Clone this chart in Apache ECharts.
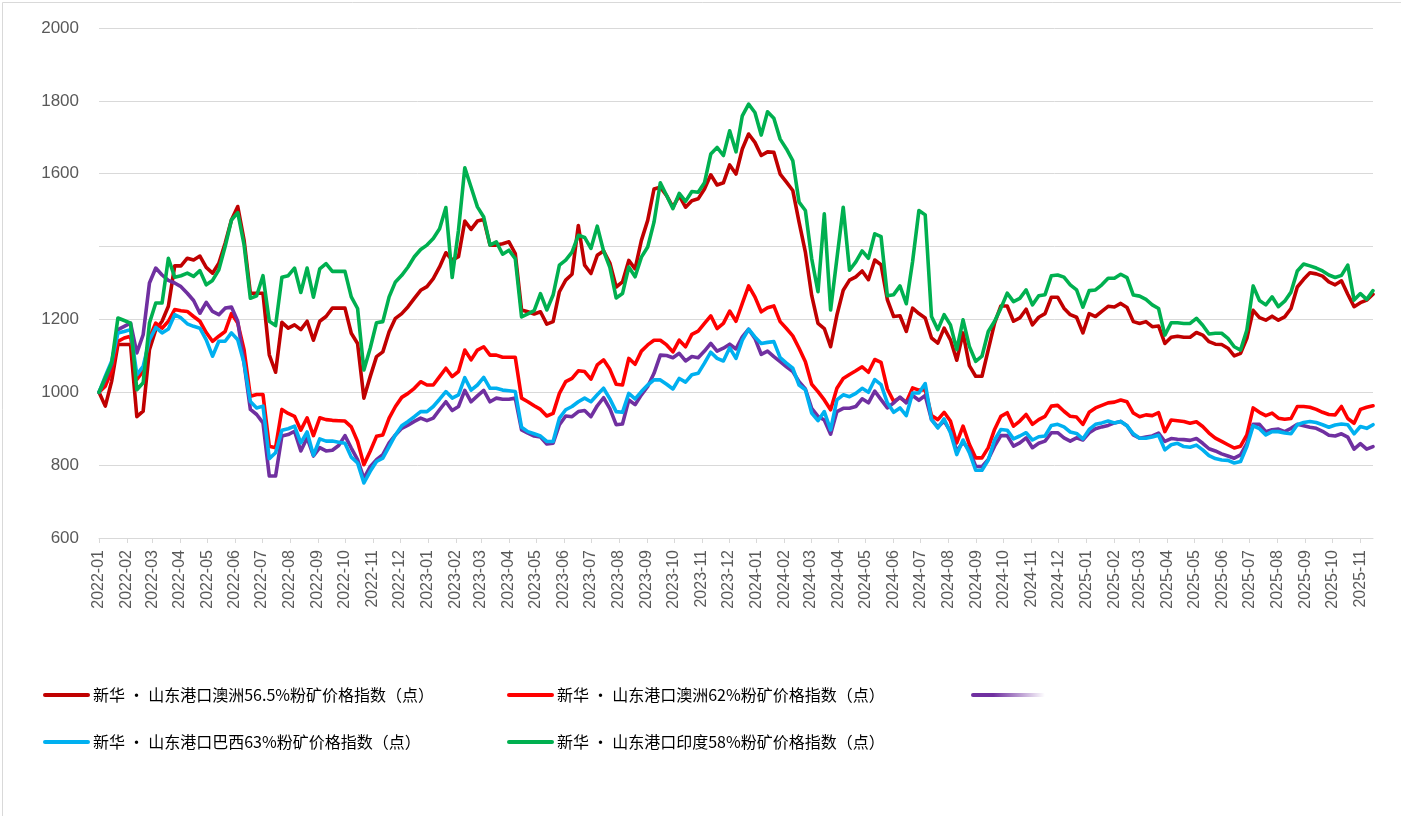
<!DOCTYPE html>
<html>
<head>
<meta charset="utf-8">
<script src="https://cdn.jsdelivr.net/npm/echarts@6/dist/echarts.min.js"></script>
<style>
html,body{margin:0;padding:0;background:#fff;}
#chart{width:1401px;height:816px;}
</style>
</head>
<body>
<div id="chart"></div>
<script>
// Weekly observations starting from this date
const startDate = '2022-01-01';

// X-axis tick labels (month starts)
const monthLabels = [
  '2022-01','2022-02','2022-03','2022-04','2022-05','2022-06','2022-07','2022-08','2022-09','2022-10','2022-11','2022-12',
  '2023-01','2023-02','2023-03','2023-04','2023-05','2023-06','2023-07','2023-08','2023-09','2023-10','2023-11','2023-12',
  '2024-01','2024-02','2024-03','2024-04','2024-05','2024-06','2024-07','2024-08','2024-09','2024-10','2024-11','2024-12',
  '2025-01','2025-02','2025-03','2025-04','2025-05','2025-06','2025-07','2025-08','2025-09','2025-10','2025-11'
];

// Series names
const nameAu565 = '新华 · 山东港口澳洲56.5%粉矿价格指数（点）';
const nameAu62 = '新华 · 山东港口澳洲62%粉矿价格指数（点）';
const namePurple = ' ';
const nameBr63 = '新华 · 山东港口巴西63%粉矿价格指数（点）';
const nameIn58 = '新华 · 山东港口印度58%粉矿价格指数（点）';

// 澳洲56.5%
const au565 = [
  1000, 962, 1030, 1131, 1131, 1131, 933, 948, 1117, 1172,
  1195, 1236, 1347, 1347, 1368, 1363, 1374, 1343, 1327, 1354,
  1409, 1473, 1510, 1418, 1272, 1272, 1272, 1103, 1055, 1192,
  1176, 1185, 1172, 1195, 1143, 1195, 1208, 1231, 1231, 1231,
  1162, 1134, 984, 1043, 1098, 1111, 1166, 1203, 1216, 1235,
  1258, 1280, 1290, 1312, 1344, 1383, 1363, 1372, 1470, 1447,
  1470, 1474, 1404, 1404, 1408, 1413, 1381, 1226, 1221, 1215,
  1221, 1187, 1194, 1276, 1308, 1324, 1458, 1349, 1326, 1376,
  1388, 1355, 1289, 1303, 1362, 1339, 1417, 1472, 1558, 1563,
  1540, 1508, 1540, 1508, 1526, 1531, 1558, 1597, 1569, 1575,
  1624, 1599, 1668, 1709, 1686, 1650, 1660, 1659, 1599, 1577,
  1554, 1467, 1385, 1266, 1189, 1175, 1125, 1212, 1280, 1308,
  1317, 1333, 1309, 1363, 1350, 1254, 1208, 1210, 1167, 1231,
  1216, 1204, 1149, 1135, 1176, 1144, 1088, 1163, 1073, 1044,
  1044, 1117, 1190, 1237, 1237, 1195, 1204, 1228, 1185, 1206,
  1216, 1261, 1261, 1231, 1213, 1206, 1163, 1216, 1208, 1222,
  1236, 1234, 1244, 1233, 1194, 1189, 1194, 1180, 1182, 1134,
  1151, 1154, 1151, 1151, 1164, 1157, 1139, 1132, 1131, 1121,
  1100, 1107, 1148, 1225, 1205, 1198, 1209, 1198, 1207, 1230,
  1289, 1310, 1328, 1325, 1319, 1303, 1295, 1306, 1269, 1235,
  1246, 1253, 1269
];

// 澳洲62%
const au62 = [
  1000, 1017, 1058, 1140, 1149, 1154, 1035, 1058, 1149, 1190,
  1176, 1195, 1227, 1224, 1222, 1208, 1195, 1164, 1140, 1154,
  1167, 1216, 1190, 1117, 989, 994, 994, 852, 848, 953,
  942, 934, 896, 930, 881, 930, 925, 923, 922, 921,
  905, 865, 801, 838, 879, 883, 929, 961, 986, 997,
  1011, 1029, 1020, 1020, 1043, 1066, 1043, 1057, 1116, 1089,
  1116, 1125, 1102, 1102, 1096, 1096, 1096, 984, 974, 963,
  953, 935, 942, 997, 1029, 1038, 1059, 1057, 1036, 1075,
  1089, 1063, 1022, 1020, 1093, 1077, 1113, 1130, 1143, 1143,
  1130, 1111, 1143, 1125, 1159, 1168, 1189, 1210, 1175, 1189,
  1223, 1195, 1244, 1292, 1262, 1221, 1232, 1237, 1194, 1175,
  1155, 1121, 1084, 1022, 1002, 979, 952, 1011, 1038, 1049,
  1059, 1070, 1055, 1090, 1082, 1009, 975, 985, 973, 1012,
  1006, 1007, 936, 925, 945, 921, 861, 907, 857, 820,
  820, 848, 898, 934, 944, 907, 921, 939, 912, 925,
  934, 962, 964, 948, 934, 932, 912, 945, 957, 964,
  971, 973, 979, 974, 943, 933, 938, 936, 944, 892,
  924, 922, 920, 915, 919, 906, 888, 874, 865, 856,
  847, 852, 883, 957, 945, 936, 943, 929, 926, 928,
  961, 961, 959, 953, 945, 939, 938, 961, 928, 915,
  953, 959, 963
];

// purple series (no legend text)
const purple = [
  1000, 1035, 1076, 1172, 1181, 1190, 1108, 1158, 1300, 1341,
  1322, 1307, 1300, 1290, 1272, 1252, 1217, 1247, 1222, 1213,
  1231, 1234, 1195, 1080, 953, 939, 916, 770, 770, 880,
  884, 893, 839, 875, 825, 848, 839, 841, 854, 881,
  847, 815, 764, 796, 815, 829, 861, 883, 901, 910,
  920, 929, 922, 929, 952, 974, 950, 961, 1005, 974,
  990, 1005, 974, 984, 981, 981, 984, 897, 888, 880,
  877, 858, 860, 911, 935, 933, 947, 950, 933, 963,
  985, 955, 911, 913, 979, 966, 993, 1016, 1052, 1102,
  1101, 1095, 1107, 1086, 1098, 1095, 1113, 1134, 1113, 1121,
  1132, 1119, 1152, 1173, 1148, 1104, 1113, 1098, 1084, 1070,
  1057, 1029, 1009, 956, 934, 924, 885, 947, 956, 956,
  961, 982, 971, 1003, 980, 957, 971, 987, 971, 991,
  978, 991, 925, 905, 921, 893, 839, 863, 841, 797,
  796, 816, 852, 881, 881, 852, 861, 875, 848, 860,
  866, 889, 889, 875, 866, 875, 869, 889, 900, 905,
  909, 916, 920, 908, 883, 874, 877, 880, 888, 865,
  873, 871, 870, 868, 873, 860, 845, 839, 831, 825,
  819, 828, 860, 912, 912, 892, 897, 899, 892, 901,
  912, 908, 904, 901, 893, 882, 880, 886, 877, 844,
  859, 844, 851
];

// 巴西63%
const br63 = [
  1000, 1044, 1085, 1163, 1167, 1172, 1048, 1071, 1144, 1178,
  1163, 1174, 1213, 1204, 1188, 1181, 1176, 1144, 1099, 1140,
  1140, 1163, 1144, 1080, 975, 957, 962, 818, 834, 896,
  900, 907, 861, 891, 827, 872, 866, 866, 863, 860,
  822, 806, 751, 783, 810, 819, 851, 883, 908, 920,
  933, 947, 947, 961, 981, 1002, 984, 993, 1040, 1006,
  1020, 1041, 1011, 1011, 1006, 1004, 1002, 904, 892, 886,
  880, 865, 865, 929, 952, 961, 974, 984, 974, 993,
  1011, 982, 947, 945, 997, 982, 1002, 1020, 1034, 1034,
  1022, 1009, 1038, 1028, 1048, 1052, 1080, 1110, 1093, 1086,
  1122, 1093, 1143, 1173, 1152, 1134, 1137, 1139, 1095, 1080,
  1066, 1020, 1007, 943, 922, 947, 897, 979, 993, 988,
  997, 1011, 1000, 1035, 1021, 971, 945, 957, 936, 998,
  998, 1024, 925, 902, 927, 889, 829, 869, 834, 786,
  786, 814, 869, 898, 896, 872, 880, 889, 869, 878,
  880, 909, 912, 905, 891, 887, 872, 898, 912, 916,
  921, 916, 920, 908, 886, 874, 874, 877, 882, 842,
  856, 860, 851, 849, 855, 842, 826, 818, 814, 813,
  806, 810, 851, 908, 900, 883, 892, 892, 888, 886,
  911, 917, 920, 917, 911, 904, 910, 913, 911, 886,
  906, 901, 911
];

// 印度58%
const in58 = [
  1000, 1040, 1080, 1204, 1197, 1190, 1007, 1026, 1190, 1245,
  1245, 1368, 1316, 1320, 1327, 1318, 1334, 1295, 1307, 1336,
  1400, 1473, 1493, 1405, 1258, 1265, 1320, 1195, 1183, 1316,
  1320, 1341, 1274, 1341, 1261, 1339, 1353, 1332, 1332, 1332,
  1262, 1230, 1061, 1121, 1191, 1194, 1262, 1303, 1321, 1344,
  1372, 1392, 1404, 1422, 1449, 1507, 1315, 1445, 1616, 1563,
  1509, 1481, 1404, 1413, 1379, 1390, 1367, 1207, 1215, 1224,
  1271, 1226, 1267, 1349, 1363, 1385, 1431, 1425, 1395, 1456,
  1388, 1343, 1259, 1271, 1344, 1317, 1371, 1399, 1467, 1575,
  1540, 1504, 1546, 1524, 1551, 1549, 1575, 1654, 1672, 1650,
  1718, 1660, 1759, 1791, 1768, 1706, 1770, 1752, 1695, 1668,
  1636, 1522, 1499, 1367, 1276, 1490, 1226, 1367, 1508, 1335,
  1358, 1388, 1368, 1435, 1427, 1265, 1268, 1292, 1243, 1359,
  1499, 1487, 1208, 1172, 1213, 1185, 1117, 1199, 1126, 1085,
  1099, 1167, 1195, 1231, 1272, 1249, 1258, 1281, 1240, 1265,
  1268, 1320, 1322, 1316, 1295, 1281, 1234, 1279, 1281, 1295,
  1313, 1313, 1324, 1315, 1267, 1264, 1255, 1240, 1230, 1157,
  1191, 1191, 1189, 1189, 1203, 1184, 1160, 1162, 1162, 1148,
  1125, 1116, 1171, 1292, 1252, 1240, 1262, 1235, 1250, 1275,
  1333, 1352, 1347, 1341, 1333, 1322, 1315, 1321, 1349, 1253,
  1271, 1255, 1279
];

const DAY = 86400000;
const t0 = Date.parse(startDate + 'T00:00:00Z');
const dates = au565.map((_, i) => t0 + i * 7 * DAY);
const monthTs = monthLabels.map(s => Date.UTC(+s.slice(0, 4), +s.slice(5, 7) - 1, 1));
const pair = arr => arr.map((v, i) => [dates[i], v]);

const chart = echarts.init(document.getElementById('chart'), null, {renderer: 'canvas'});

const fontAxis = 'Liberation Sans, Arial, sans-serif';
const fontLegend = '"Noto Sans CJK SC", sans-serif';

function mkSeries(name, arr, color) {
  return {
    name: name, type: 'line', data: pair(arr), showSymbol: false, symbol: 'none',
    smooth: false,
    lineStyle: {color: color, width: 3.6, join: 'round', cap: 'round'},
    itemStyle: {color: color},
    emphasis: {disabled: true}
  };
}

function mkLegend(name, left, top, extra) {
  return Object.assign({
    data: [name], left: left, top: top, padding: 0, itemGap: 0,
    itemWidth: 43, itemHeight: 14, selectedMode: false,
    itemStyle: {opacity: 0},
    lineStyle: {width: 4, cap: 'round'},
    textStyle: {fontSize: 16, color: '#000', fontFamily: fontLegend}
  }, extra || {});
}

const option = {
  animation: false,
  backgroundColor: '#fff',
  graphic: [{
    type: 'rect', left: 0, top: 0, silent: true,
    shape: {x: 0, y: 0, width: 1400, height: 815},
    style: {fill: 'none', stroke: '#d9d9d9', lineWidth: 1}
  }],
  grid: {left: 99, right: 28, top: 28, bottom: 278, containLabel: false},
  xAxis: {
    type: 'value',
    min: dates[0],
    max: dates[dates.length - 1],
    axisLine: {show: true, lineStyle: {color: '#d9d9d9', width: 1}},
    axisTick: {show: true, customValues: monthTs, length: 5, lineStyle: {color: '#d9d9d9'}},
    axisLabel: {
      customValues: monthTs,
      rotate: 90, margin: 12, fontSize: 16, color: '#595959', fontFamily: fontAxis,
      formatter: v => { const k = monthTs.indexOf(+v); return k >= 0 ? monthLabels[k] : ''; }
    },
    splitLine: {show: false}
  },
  yAxis: {
    type: 'value', min: 600, max: 2000, interval: 200,
    axisLine: {show: false}, axisTick: {show: false},
    axisLabel: {
      fontSize: 17, color: '#595959', margin: 20, fontFamily: fontAxis,
      formatter: v => (v === 1400 ? '' : String(v))
    },
    splitLine: {lineStyle: {color: '#d9d9d9', width: 1}}
  },
  legend: [
    mkLegend(nameAu565, 43, 687),
    mkLegend(nameAu62, 507, 687),
    mkLegend(namePurple, 971, 687, {
      itemWidth: 70,
      data: [{
        name: namePurple,
        lineStyle: {
          width: 4,
          color: new echarts.graphic.LinearGradient(0, 0, 1, 0, [
            {offset: 0, color: 'rgba(112,48,160,1)'},
            {offset: 0.3, color: 'rgba(112,48,160,1)'},
            {offset: 1, color: 'rgba(112,48,160,0)'}
          ])
        }
      }]
    }),
    mkLegend(nameBr63, 43, 734),
    mkLegend(nameIn58, 507, 734)
  ],
  series: [
    mkSeries(nameAu565, au565, '#C00000'),
    mkSeries(nameAu62, au62, '#FF0000'),
    mkSeries(namePurple, purple, '#7030A0'),
    mkSeries(nameBr63, br63, '#00B0F0'),
    mkSeries(nameIn58, in58, '#00B050')
  ]
};

chart.setOption(option);
</script>
</body>
</html>
